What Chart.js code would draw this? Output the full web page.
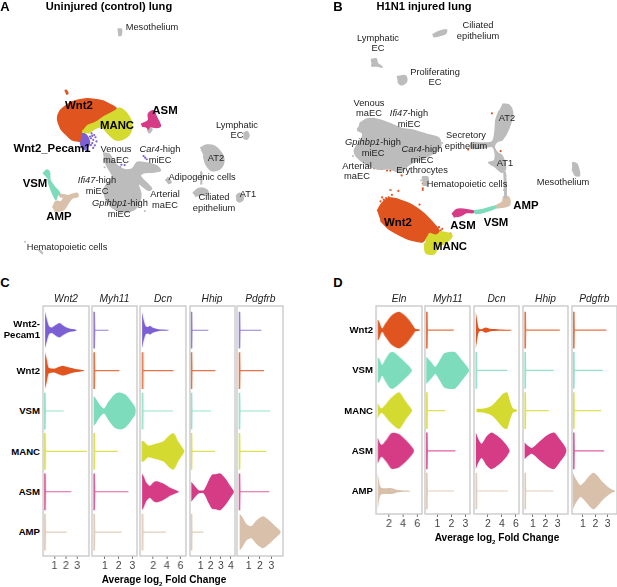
<!DOCTYPE html>
<html>
<head>
<meta charset="utf-8">
<script src="https://cdn.jsdelivr.net/npm/chart.js@4"></script>
<style>
html, body { margin: 0; padding: 0; background: #fff; }
#fig { position: relative; width: 617px; height: 587px; overflow: hidden; font-family: "Liberation Sans", Arial, sans-serif; color: #222; }
canvas { position: absolute; }
.lb { position: absolute; white-space: nowrap; transform: translate(-50%, -50%); font-size: 9.3px; line-height: 1; }
.b { font-weight: bold; color: #000; }
.big { font-size: 11.4px; }
.letter { font-size: 13px; }
.ttl { font-size: 11.1px; }
.axt { font-size: 10.1px; }
.rt { transform: translate(-100%, -50%); font-size: 9.6px; }
.gene { font-size: 10.2px; font-style: italic; }
sub { font-size: 60%; line-height: 0; }
</style>
</head>
<body>
<div id="fig"></div>
<script>
// colours per cell type
var cPecam = '#7c5fd3', cWnt2 = '#e0541f', cVsm = '#7cdcbc', cManc = '#d4da30', cAsm = '#d63c86', cAmp = '#d9c0aa', cGray = '#bcbcbc';

// UMAP outlines, panel A (embedding, y runs downward)
var aWnt2 = [[235,425],[210,420],[190,402],[175,385],[165,355],[172,332],[190,315],[210,303],[230,297],[255,293],[280,295],[305,300],[325,310],[345,322],[330,332],[305,345],[280,362],[255,372],[242,388]];
var aManc = [[240,398],[242,384],[260,372],[280,364],[300,352],[320,335],[340,326],[360,323],[378,338],[392,362],[394,382],[385,405],[365,418],[345,420],[325,405],[300,380],[280,385],[260,400]];
var aPecam = [[222,410],[245,400],[260,415],[262,435],[245,450],[235,430]];
var aAsm = [[422,372],[445,360],[445,340],[460,330],[470,350],[478,365],[482,378],[470,382],[450,380],[446,395],[442,382],[425,377]];
var aVsm = [[120,525],[132,513],[140,520],[142,545],[155,565],[172,585],[165,590],[160,605],[152,590],[140,560],[135,540]];
var aAmp = [[150,630],[160,610],[175,612],[185,600],[205,590],[225,585],[228,595],[210,600],[195,620],[185,635],[170,640],[155,640]];
var aAmpLoop = [[165,588],[195,592],[195,598],[172,596]];
var aEndo = [[305,460],[325,465],[340,490],[365,510],[395,510],[410,490],[430,490],[470,500],[482,515],[455,520],[430,522],[420,532],[455,570],[445,576],[414,555],[422,590],[412,625],[385,642],[345,636],[320,615],[310,590],[312,565],[335,535],[320,505],[308,480]];
var aMeso = [[350,78],[362,78],[360,97],[352,97]];
var aLymph = [[738,400],[750,395],[755,408],[748,418],[738,415]];
var aAt2 = [[605,445],[625,436],[650,440],[670,460],[678,485],[665,510],[640,515],[622,495],[615,470]];
var aAdipo = [[497,545],[507,540],[515,552],[505,555]];
var aCiliated = [[582,585],[600,570],[625,575],[630,590],[610,590],[590,595]];
var aAt1 = [[715,595],[725,585],[735,590],[737,605],[725,612],[716,605]];
var aHema = [[105,762],[109,760],[119,770],[116,773]];
var aAsmTail = [[444,396],[452,384],[456,388],[448,400]];
var aAt2Tail = [[605,520],[609,520],[609,556],[605,556]];
var aOrangeSpot = [[187,268],[192,267],[197,277],[191,278]];
var aPecamDots = [[270,400],[278,405],[282,412],[275,420],[268,415],[285,425],[272,430],[280,437],[275,445],[262,428],[268,436],[250,445],[245,345],[238,350],[232,355],[250,352],[240,340],[430,470],[435,475],[440,480],[372,498],[358,505],[362,497],[228,420],[272,408],[255,452],[265,410]];
var aOrangeDots = [[150,572],[155,575],[148,568]];
var aWhiteDots = [[290,360],[300,355],[315,340],[325,333],[345,340],[262,352],[255,346]];
var aGrayDots = [[65,735],[360,648],[330,520],[310,505],[434,640],[440,610],[505,538],[607,530],[738,590],[612,452]];

// UMAP outlines, panel B
var bWnt2 = [[195,640],[210,615],[235,600],[270,608],[300,620],[335,645],[365,675],[385,700],[375,710],[355,705],[345,720],[335,735],[300,730],[265,715],[230,695],[205,670]];
var bManc = [[345,735],[355,705],[395,705],[425,715],[410,735],[385,750],[370,772],[345,770],[340,740]];
var bAsm = [[425,650],[440,635],[465,635],[490,640],[490,645],[470,645],[450,655],[430,658]];
var bVsm = [[490,640],[520,635],[558,625],[560,630],[520,645],[495,648]];
var bAmp = [[558,625],[580,612],[585,595],[600,598],[603,620],[585,628],[560,630]];
var bCiliated = [[365,95],[385,85],[408,80],[405,92],[385,98],[368,102]];
var bLymph = [[175,172],[192,170],[195,183],[210,195],[195,192],[178,192]];
var bProlif = [[255,225],[282,222],[285,240],[268,250],[258,240]];
var bEndo = [[140,370],[165,355],[200,358],[235,370],[270,385],[305,390],[355,405],[385,415],[390,440],[370,460],[330,480],[295,495],[265,520],[235,510],[195,510],[160,495],[130,470],[125,450],[145,420],[150,400],[133,390]];
var bEry = [[332,535],[350,535],[350,560],[335,560]];
var bEpi = [[580,310],[600,312],[612,335],[600,385],[580,420],[565,425],[555,440],[565,460],[580,470],[590,510],[578,520],[560,505],[538,490],[555,485],[558,460],[548,440],[520,445],[485,445],[485,430],[520,430],[550,425],[558,390],[560,360],[570,330]];
var bThread = [[583,520],[589,520],[592,600],[586,600]];
var bMeso = [[795,490],[810,495],[818,530],[805,530],[795,510]];
var bOrangeDots = [[548,338],[575,455],[475,450],[180,190],[275,243],[160,455],[185,355],[290,395],[318,402],[288,412],[290,432],[258,465],[300,478],[283,490],[185,508],[210,510],[225,515],[235,515],[270,530],[335,570],[335,555],[260,578],[235,575],[210,598],[395,695],[420,710],[395,725],[505,645],[222,600],[240,590],[385,690],[335,575],[205,610],[215,605],[230,598],[325,620],[390,700]];
var bGrayDots = [[238,575],[590,590],[585,575],[590,530],[330,545],[120,470],[395,430],[135,385]];
var bWhiteDots = [[355,712],[360,716],[366,720],[352,718],[320,690],[335,695]];

// violin rows: [log2FC, relative density] pairs; a bare number is a row of zeros with one tail ending there
var rowsC = ['Wnt2-Pecam1', 'Wnt2', 'VSM', 'MANC', 'ASM', 'AMP'];
var colorsC = [cPecam, cWnt2, cVsm, cManc, cAsm, cAmp];
var genesC = ['Wnt2', 'Myh11', 'Dcn', 'Hhip', 'Pdgfrb'];
var cViolinWnt2 = [
  [[.18,1],[.32,.64],[.53,.22],[.76,.15],[1.06,.27],[1.44,.4],[1.8,.25],[2.24,.11],[2.9,.03]],
  [[.18,1],[.32,.64],[.5,.15],[.76,.11],[1.06,.11],[1.35,.2],[1.74,.27],[2.24,.18],[2.82,.09],[3.59,.02]],
  1.82, 3.85, 2.47, 2.06];
var cViolinMyh11 = [1.26, 2.05,
  [[.19,.8],[.31,.72],[.67,.3],[.95,.14],[1.26,.5],[1.74,.93],[2.14,1],[2.52,.88],[2.93,.5],[3.21,.18]],
  1.93, 2.71, 2.21];
var cViolinDcn = [
  [[.37,1],[.62,.55],[.91,.22],[1.26,.18],[1.5,.25],[2,.13],[2.74,.05],[4.22,.02]],
  4.96, 4.86,
  [[.3,.57],[.6,.55],[1.26,.32],[2,.38],[3.5,.55],[4.2,.82],[4.96,1],[5.7,.52],[6.54,.05]],
  [[.37,1],[.6,.85],[1,.5],[1.5,.32],[2,.5],[2.49,.58],[3.5,.45],[4.47,.22],[5.7,.03]],
  3.83];
var cViolinHhip = [1.76, 2.46, 2.03, 2.43,
  [[.08,.54],[.48,.27],[.81,.09],[1.3,.09],[1.8,.62],[2.13,.93],[2.46,.95],[2.95,1],[3.45,.72],[3.94,.32],[4.27,.05]],
  1.27];
var cViolinPdgfrb = [2.12, 2.35, 2.9, 2.56, 2.82,
  [[.2,1],[.44,.82],[.8,.45],[1.24,.33],[1.68,.64],[2.27,.87],[2.85,.62],[3.3,.35],[3.8,.06]]];

var rowsD = ['Wnt2', 'VSM', 'MANC', 'ASM', 'AMP'];
var colorsD = [cWnt2, cVsm, cManc, cAsm, cAmp];
var genesD = ['Eln', 'Myh11', 'Dcn', 'Hhip', 'Pdgfrb'];
var dViolinEln = [
  [[.43,.57],[.6,.5],[1.05,.09],[1.43,.32],[2.38,.8],[3.43,1],[4.52,.7],[5.48,.21],[5.71,.07],[6.33,.03]],
  [[.43,.71],[.7,.6],[1.05,.3],[1.43,.55],[2.14,.96],[2.62,1],[3.81,.62],[4.76,.27],[5.2,.06]],
  [[.43,.43],[.95,.12],[2.14,.62],[3.43,1],[4.29,.55],[4.76,.3],[5.24,.05]],
  [[.43,.71],[.95,.32],[1.67,.62],[2.38,.98],[3.33,.93],[4.52,.54],[5.48,.09]],
  [[.43,1],[.6,.6],[.86,.2],[1.67,.16],[2.38,.16],[3.33,.06],[5,.02]]];
var dViolinMyh11 = [2.17,
  [[.21,.75],[.57,.45],[.86,.2],[1.17,.55],[1.52,.95],[2.24,1],[2.76,.55],[3.24,.08]],
  1.57, 2.29, 2.19];
var dViolinDcn = [
  [[.26,1],[.45,.54],[.68,.11],[1.1,.05],[1.67,.14],[2.28,.07],[3.69,.04],[5.34,.02]],
  4.78,
  [[.35,.09],[1.34,.11],[2.52,.27],[3.46,.63],[4.16,.93],[4.73,1],[5.2,.45],[5.58,.11],[6.14,.03]],
  [[.26,1],[.64,.63],[1.1,.39],[1.81,.8],[2.52,1],[3.69,.71],[4.64,.32],[5.06,.05]],
  4.82];
var dViolinHhip = [3.16, 2.68, 2.29,
  [[.34,.45],[.53,.32],[.92,.16],[1.58,.54],[2.24,.89],[2.71,1],[3.16,.63],[3.55,.27],[3.68,.07]],
  2.66];
var dViolinPdgfrb = [2.89, 2.6, 2.47, 2.71,
  [[.2,1],[.39,.71],[.79,.32],[1.05,.45],[1.85,1],[2.65,.45],[3.19,.14],[3.59,.02]]];

var fig = document.getElementById('fig');

function label(html, x, y, cls) {
  var d = document.createElement('div');
  d.className = 'lb ' + (cls || '');
  d.innerHTML = html;
  d.style.left = x + 'px';
  d.style.top = y + 'px';
  fig.appendChild(d);
}

function addCanvas(l, t, w, h) {
  var c = document.createElement('canvas');
  c.width = w; c.height = h;
  c.style.left = l + 'px'; c.style.top = t + 'px';
  c.style.width = w + 'px'; c.style.height = h + 'px';
  fig.appendChild(c);
  return c;
}

function toPts(list) {
  return list.map(function (p) { return { x: p[0], y: p[1] }; });
}

function shape(list, color) {
  return { data: toPts(list), showLine: true, fill: 'shape', backgroundColor: color, borderColor: color, borderWidth: 1.5, pointRadius: 0, tension: .3 };
}

function dots(list, color, r) {
  return { data: toPts(list), showLine: false, backgroundColor: color, borderWidth: 0, pointRadius: r };
}

function umap(l, t, w, h, datasets) {
  new Chart(addCanvas(l, t, w, h), {
    type: 'scatter',
    data: { datasets: datasets },
    options: {
      responsive: false, animation: false,
      layout: { padding: 0 },
      plugins: { legend: { display: false }, tooltip: { enabled: false } },
      scales: {
        x: { display: false, min: 0, max: w * 3 },
        y: { display: false, min: 0, max: h * 3, reverse: true }
      }
    }
  });
}

var panelBox = {
  id: 'panelBox',
  afterDraw: function (chart) {
    var a = chart.chartArea, ctx = chart.ctx;
    ctx.save();
    ctx.strokeStyle = '#c6c6c6';
    ctx.lineWidth = 1.3;
    ctx.strokeRect(a.left, a.top, a.right - a.left, a.bottom - a.top);
    ctx.restore();
  }
};

// one facet of the violin grid
function violinPanel(left, right, top, bottom, xMin, xMax, ticks, bar, rows, colors, yMax) {
  var datasets = rows.map(function (row, i) {
    var spike = typeof row == 'number';
    var pts = spike ? [[bar[0], 1], [bar[1], 1], [bar[1] + .02, .03], [row, .03]] : row;
    var upper = pts.map(function (p) { return { x: p[0], y: i - p[1] * .455 }; });
    var lower = pts.slice().reverse().map(function (p) { return { x: p[0], y: i + p[1] * .455 }; });
    return {
      data: upper.concat(lower), showLine: true, fill: 'shape', backgroundColor: spike ? colors[i] + 'd0' : colors[i],
      borderWidth: 0, pointRadius: 0, tension: spike ? 0 : .25
    };
  });
  var pad = 2;
  new Chart(addCanvas(left - pad, top - pad, right - left + 2 * pad, bottom - top + pad + 22), {
    type: 'scatter',
    data: { datasets: datasets },
    plugins: [panelBox],
    options: {
      responsive: false, animation: false,
      layout: { padding: { left: pad, right: pad, top: pad, bottom: 0 } },
      plugins: { legend: { display: false }, tooltip: { enabled: false } },
      scales: {
        x: {
          min: xMin, max: xMax,
          afterBuildTicks: function (s) { s.ticks = ticks.map(function (v) { return { value: v }; }); },
          afterFit: function (s) { s.height = 22; },
          grid: { drawOnChartArea: false, color: '#777', tickLength: 3 },
          border: { display: false },
          ticks: { color: '#444', font: { family: 'Liberation Sans', size: 10.5 }, padding: 1, maxRotation: 0, autoSkip: false }
        },
        y: { display: false, min: -.6, max: yMax, reverse: true }
      }
    }
  });
}

umap(0, 0, 300, 270, [
  shape(aEndo, cGray), shape(aMeso, cGray), shape(aLymph, cGray), shape(aAt2, cGray), shape(aAdipo, cGray),
  shape(aCiliated, cGray), shape(aAt1, cGray), shape(aHema, cGray), shape(aAsmTail, cGray), shape(aAt2Tail, cGray),
  shape(aWnt2, cWnt2), shape(aOrangeSpot, cWnt2), shape(aManc, cManc), shape(aPecam, cPecam), shape(aAsm, cAsm),
  shape(aVsm, cVsm), shape(aAmp, cAmp), shape(aAmpLoop, cAmp),
  dots(aWhiteDots, '#ffffff', 1), dots(aGrayDots, cGray, 1), dots(aPecamDots, cPecam, 1.1), dots(aOrangeDots, cWnt2, 1.1)
]);

umap(310, 0, 307, 270, [
  shape(bEndo, cGray), shape(bEry, cGray), shape(bCiliated, cGray), shape(bLymph, cGray), shape(bProlif, cGray),
  shape(bEpi, cGray), shape(bThread, cGray), shape(bMeso, cGray),
  shape(bWnt2, cWnt2), shape(bManc, cManc), shape(bAsm, cAsm), shape(bVsm, cVsm), shape(bAmp, cAmp),
  dots(bWhiteDots, '#ffffff', 1), dots(bGrayDots, cGray, 1), dots(bOrangeDots, cWnt2, 1.1)
]);

violinPanel(43.3, 88.7, 306, 556, 0, 4.03, [1, 2, 3], [.09, .24], cViolinWnt2, colorsC, 5.59);
violinPanel(91.7, 137.3, 306, 556, .07, 3.33, [1, 2, 3], [.17, .29], cViolinMyh11, colorsC, 5.59);
violinPanel(140.3, 185.7, 306, 556, .07, 6.8, [2, 4, 6], [.32, .57], cViolinDcn, colorsC, 5.59);
violinPanel(189.7, 234.7, 306, 556, -.05, 4.4, [1, 2, 3, 4], [.02, .18], cViolinHhip, colorsC, 5.59);
violinPanel(237.3, 283.3, 306, 556, -.03, 4.03, [1, 2, 3], [.12, .26], cViolinPdgfrb, colorsC, 5.59);

violinPanel(376.3, 421.7, 306, 514.3, .19, 6.67, [2, 4, 6], [.3, .43], dViolinEln, colorsD, 4.57);
violinPanel(425.3, 470.3, 306, 514.3, .12, 3.33, [1, 2, 3], [.19, .31], dViolinMyh11, colorsD, 4.57);
violinPanel(473.7, 519.3, 306, 514.3, 0, 6.43, [2, 4, 6], [.21, .45], dViolinDcn, colorsD, 4.57);
violinPanel(522.7, 568.3, 306, 514.3, .21, 3.82, [1, 2, 3], [.32, .45], dViolinHhip, colorsD, 4.57);
violinPanel(571.7, 617, 306, 514.3, .12, 3.75, [1, 2, 3], [.2, .33], dViolinPdgfrb, colorsD, 4.57);

// panel letters and titles
label('A', 5, 6, 'b letter');
label('B', 338, 6, 'b letter');
label('C', 5, 282, 'b letter');
label('D', 338, 282, 'b letter');
label('Uninjured (control) lung', 109, 6.5, 'b ttl');
label('H1N1 injured lung', 424, 6.5, 'b ttl');

// panel A cell type names
label('Mesothelium', 152, 28);
label('Lymphatic', 237, 126); label('EC', 237, 136);
label('Venous', 116, 150); label('maEC', 116, 161);
label('<i>Car4</i>-high', 160, 150); label('miEC', 160, 161);
label('AT2', 216, 159);
label('Adipogenic cells', 202, 178);
label('<i>Ifi47</i>-high', 97, 181); label('miEC', 97, 192);
label('Arterial', 165, 195); label('maEC', 165, 206);
label('<i>Gpihbp1</i>-high', 120, 204); label('miEC', 119, 215);
label('Ciliated', 214, 198); label('epithelium', 214, 209);
label('AT1', 248, 195);
label('Hematopoietic cells', 67, 248);
label('Wnt2', 79, 106, 'b big');
label('ASM', 165, 111, 'b big');
label('MANC', 117, 126, 'b big');
label('Wnt2_Pecam1', 52, 149, 'b big');
label('VSM', 35, 184, 'b big');
label('AMP', 59, 217, 'b big');

// panel B cell type names
label('Ciliated', 478, 26); label('epithelium', 478, 37);
label('Lymphatic', 378, 39); label('EC', 378, 49);
label('Proliferating', 435, 73); label('EC', 435, 83);
label('Venous', 369, 104); label('maEC', 369, 114);
label('<i>Ifi47</i>-high', 409, 114); label('miEC', 409, 125);
label('Secretory', 466, 136); label('epithelium', 466, 147);
label('AT2', 507, 119);
label('<i>Gpihbp1</i>-high', 373, 143); label('miEC', 373, 154);
label('<i>Car4</i>-high', 422, 150); label('miEC', 422, 161);
label('AT1', 505, 164);
label('Arterial', 357, 167); label('maEC', 357, 177);
label('Erythrocytes', 422, 171);
label('Hematopoietic cells', 467, 185);
label('Mesothelium', 563, 183);
label('AMP', 526, 206, 'b big');
label('Wnt2', 398, 223, 'b big');
label('ASM', 463, 226, 'b big');
label('VSM', 496, 223, 'b big');
label('MANC', 450, 247, 'b big');

// facet titles and row names
var leftsC = [66, 114.5, 163, 212, 260.3], leftsD = [399, 447.8, 496.5, 545.5, 594.3];
genesC.forEach(function (g, i) { label(g, leftsC[i], 299, 'gene'); });
genesD.forEach(function (g, i) { label(g, leftsD[i], 299, 'gene'); });
label('Wnt2-', 40, 323.5, 'b rt');
label('Pecam1', 40, 335, 'b rt');
var rowTopC = 330.3, rowTopD = 330;
rowsC.slice(1).forEach(function (r, i) { label(r, 40, rowTopC + 40.4 * (i + 1), 'b rt'); });
rowsD.forEach(function (r, i) { label(r, 373, rowTopD + 40.3 * i, 'b rt'); });
label('Average log<sub>2</sub> Fold Change', 164, 580, 'b axt');
label('Average log<sub>2</sub> Fold Change', 497, 538, 'b axt');
</script>
</body>
</html>
